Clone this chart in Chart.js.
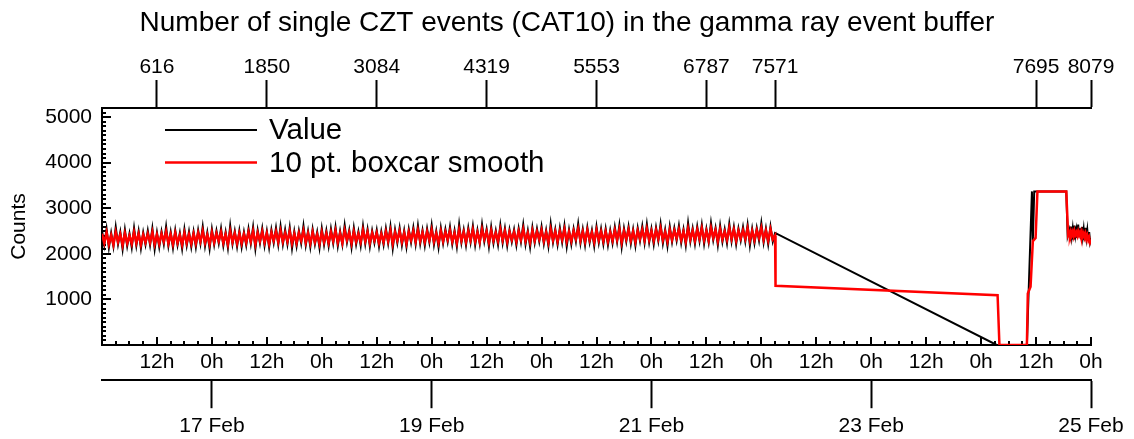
<!DOCTYPE html>
<html>
<head>
<meta charset="utf-8">
<title>CZT single events</title>
<script src="https://cdn.jsdelivr.net/npm/chart.js@4"></script>
<style>
  body { margin: 0; background: #fff; }
  #wrap { width: 1134px; height: 439px; }
</style>
</head>
<body>
<div id="wrap"><canvas id="chart" width="1134" height="439"></canvas></div>
<script>
// time is in hours counted from 16 Feb 00:00
const mainStartHour = 0;
const mainStepHours = 0.5;

const valueMain = [
  2510, 2190, 2550, 2130, 2460, 2160, 2590, 2210, 2480, 2100, 2530, 2170, 2450, 2140, 2570, 2180, 2500, 2120, 2470, 2200,
  2510, 2190, 2560, 2100, 2470, 2150, 2490, 2210, 2600, 2170, 2480, 2130, 2520, 2190, 2460, 2110, 2540, 2180, 2490, 2150,
  2490, 2150, 2520, 2220, 2600, 2170, 2470, 2110, 2540, 2200, 2510, 2230, 2560, 2180, 2480, 2130, 2620, 2210, 2500, 2160,
  2510, 2150, 2480, 2190, 2550, 2220, 2590, 2110, 2520, 2230, 2560, 2180, 2500, 2140, 2530, 2240, 2570, 2200, 2610, 2210,
  2530, 2210, 2580, 2120, 2490, 2170, 2510, 2230, 2620, 2190, 2500, 2150, 2540, 2210, 2480, 2130, 2560, 2200, 2510, 2170,
  2550, 2230, 2590, 2170, 2500, 2200, 2630, 2250, 2520, 2140, 2570, 2210, 2490, 2180, 2610, 2220, 2540, 2160, 2510, 2240,
  2520, 2160, 2490, 2200, 2560, 2230, 2600, 2120, 2530, 2240, 2570, 2190, 2510, 2150, 2540, 2250, 2580, 2210, 2620, 2220,
  2520, 2180, 2550, 2250, 2630, 2200, 2500, 2140, 2570, 2230, 2540, 2260, 2590, 2210, 2510, 2160, 2650, 2240, 2530, 2190,
  2570, 2250, 2610, 2190, 2520, 2220, 2650, 2270, 2540, 2160, 2590, 2230, 2510, 2200, 2630, 2240, 2560, 2180, 2530, 2260,
  2530, 2190, 2560, 2260, 2640, 2210, 2510, 2150, 2580, 2240, 2550, 2270, 2600, 2220, 2520, 2170, 2660, 2250, 2540, 2200,
  2570, 2250, 2620, 2160, 2530, 2210, 2550, 2270, 2660, 2230, 2540, 2190, 2580, 2250, 2520, 2170, 2600, 2240, 2550, 2210,
  2550, 2190, 2520, 2230, 2590, 2260, 2630, 2150, 2560, 2270, 2600, 2220, 2540, 2180, 2570, 2280, 2610, 2240, 2650, 2250,
  2550, 2210, 2580, 2280, 2660, 2230, 2530, 2170, 2600, 2260, 2570, 2290, 2620, 2240, 2540, 2190, 2680, 2270, 2560, 2220,
  2600, 2280, 2640, 2220, 2550, 2250, 2680, 2300, 2570, 2190, 2620, 2260, 2540, 2230, 2660, 2270, 2590, 2210, 2560, 2290,
  2590, 2270, 2640, 2180, 2550, 2230, 2570, 2290, 2680, 2250, 2560, 2210, 2600, 2270, 2460
];

const smoothMain = [
  2440, 2240, 2470, 2210, 2410, 2200, 2480, 2260, 2430, 2190, 2450, 2230, 2400, 2220, 2480, 2240, 2440, 2200, 2420, 2250,
  2440, 2250, 2480, 2210, 2420, 2220, 2440, 2270, 2490, 2230, 2430, 2210, 2460, 2240, 2410, 2200, 2460, 2240, 2430, 2220,
  2440, 2230, 2460, 2270, 2500, 2240, 2420, 2210, 2470, 2250, 2450, 2280, 2480, 2240, 2430, 2210, 2500, 2260, 2450, 2230,
  2450, 2230, 2430, 2250, 2480, 2270, 2500, 2210, 2460, 2280, 2490, 2250, 2450, 2220, 2470, 2290, 2490, 2260, 2510, 2270,
  2460, 2270, 2500, 2230, 2440, 2240, 2460, 2290, 2510, 2250, 2450, 2230, 2480, 2260, 2430, 2220, 2480, 2260, 2450, 2240,
  2480, 2280, 2510, 2250, 2450, 2240, 2520, 2300, 2470, 2230, 2490, 2270, 2440, 2260, 2520, 2280, 2480, 2240, 2460, 2290,
  2460, 2240, 2440, 2260, 2490, 2280, 2510, 2220, 2470, 2290, 2500, 2260, 2460, 2230, 2480, 2300, 2500, 2270, 2520, 2280,
  2470, 2260, 2490, 2300, 2530, 2270, 2450, 2240, 2500, 2280, 2480, 2310, 2510, 2270, 2460, 2240, 2530, 2290, 2480, 2260,
  2500, 2300, 2530, 2270, 2470, 2260, 2540, 2320, 2490, 2250, 2510, 2290, 2460, 2280, 2540, 2300, 2500, 2260, 2480, 2310,
  2480, 2270, 2500, 2310, 2540, 2280, 2460, 2250, 2510, 2290, 2490, 2320, 2520, 2280, 2470, 2250, 2540, 2300, 2490, 2270,
  2500, 2310, 2540, 2270, 2480, 2280, 2500, 2330, 2550, 2290, 2490, 2270, 2520, 2300, 2470, 2260, 2520, 2300, 2490, 2280,
  2490, 2270, 2470, 2290, 2520, 2310, 2540, 2250, 2500, 2320, 2530, 2290, 2490, 2260, 2510, 2330, 2530, 2300, 2550, 2310,
  2500, 2290, 2520, 2330, 2560, 2300, 2480, 2270, 2530, 2310, 2510, 2340, 2540, 2300, 2490, 2270, 2560, 2320, 2510, 2290,
  2530, 2330, 2560, 2300, 2500, 2290, 2570, 2350, 2520, 2280, 2540, 2320, 2490, 2310, 2570, 2330, 2530, 2290, 2510, 2340,
  2520, 2330, 2560, 2290, 2500, 2300, 2520, 2350, 2570, 2310, 2510, 2290, 2540, 2320, 2400
];

// sparse stretch after the buffer stalls (22 Feb 03h) until it comes back (24 Feb 11h)
const valueGapHours  = [195.4, 202.0, 203.1, 203.3, 203.6, 210.6, 210.9];
const valueGapCounts = [0, 0, 3370, 2300, 3370, 3370, 2400];
const smoothGapHours  = [147.1, 195.6, 196.0, 202.0, 202.2, 202.8, 203.3, 203.9, 204.3, 210.6, 211.0];
const smoothGapCounts = [1300, 1090, 0, 0, 1130, 1280, 2280, 2350, 3370, 3370, 2420];

const tailStartHour = 211.2;
const tailStepHours = 0.2;
const valueTail  = [2520, 2330, 2600, 2380, 2550, 2310, 2620, 2400, 2530, 2350, 2640, 2380, 2560, 2320, 2590, 2370, 2540, 2300, 2570, 2350, 2520, 2290, 2480, 2260, 2350];
const smoothTail = [2470, 2400, 2490, 2410, 2480, 2390, 2500, 2420, 2470, 2400, 2490, 2410, 2470, 2380, 2480, 2390, 2450, 2360, 2440, 2330, 2400, 2300, 2360, 2250, 2300];

const yTickValues = [1000, 2000, 3000, 4000, 5000];
const topTickHours  = [12, 36, 60, 84, 108, 132, 147, 204, 216];
const topTickLabels = ['616', '1850', '3084', '4319', '5553', '6787', '7571', '7695', '8079'];
const dateTickHours  = [24, 72, 120, 168, 216];
const dateTickLabels = ['17 Feb', '19 Feb', '21 Feb', '23 Feb', '25 Feb'];

function buildPoints(mainVals, gapHours, gapVals, tailVals) {
  const pts = [];
  mainVals.forEach((v, i) => pts.push({x: mainStartHour + i * mainStepHours, y: v}));
  gapHours.forEach((h, i) => pts.push({x: h, y: gapVals[i]}));
  tailVals.forEach((v, i) => pts.push({x: tailStartHour + i * tailStepHours, y: v}));
  return pts;
}

const FONT = '"Liberation Sans", Arial, Helvetica, sans-serif';
Chart.defaults.font.family = FONT;
Chart.defaults.color = '#000';

// inward ticks along the left and bottom axes
const axisTicks = {
  id: 'axisTicks',
  beforeDatasetsDraw(chart) {
    const {ctx, chartArea} = chart;
    const xs = chart.scales.x, ys = chart.scales.y;
    ctx.save();
    ctx.strokeStyle = '#000';
    ctx.lineWidth = 2;
    ctx.beginPath();
    for (let h = xs.min; h <= xs.max; h += 3) {
      const px = Math.round(xs.getPixelForValue(h));
      const len = h % 12 === 0 ? 8 : 4;
      ctx.moveTo(px, chartArea.bottom);
      ctx.lineTo(px, chartArea.bottom - len);
    }
    for (let v = ys.min; v <= ys.max; v += 100) {
      const py = Math.round(ys.getPixelForValue(v));
      const len = v % 1000 === 0 ? 9 : 4;
      ctx.moveTo(chartArea.left, py);
      ctx.lineTo(chartArea.left + len, py);
    }
    ctx.stroke();
    ctx.restore();
  }
};

// legend drawn inside the plot, top left
const insideLegend = {
  id: 'insideLegend',
  afterDraw(chart) {
    const {ctx, chartArea} = chart;
    ctx.save();
    ctx.font = '29.5px ' + FONT;
    ctx.textBaseline = 'middle';
    ctx.fillStyle = '#000';
    chart.data.datasets.forEach((ds, i) => {
      const y = chartArea.top + 22 + i * 32.5;
      ctx.strokeStyle = ds.borderColor;
      ctx.lineWidth = ds.borderWidth;
      ctx.beginPath();
      ctx.moveTo(chartArea.left + 63, y);
      ctx.lineTo(chartArea.left + 155, y);
      ctx.stroke();
      ctx.fillText(ds.label, chartArea.left + 167, y + 1);
    });
    ctx.restore();
  }
};

new Chart(document.getElementById('chart'), {
  type: 'line',
  data: {
    datasets: [{
      label: 'Value',
      data: buildPoints(valueMain, valueGapHours, valueGapCounts, valueTail),
      borderColor: '#000',
      borderWidth: 2,
      pointRadius: 0,
      tension: 0,
      order: 2
    }, {
      label: '10 pt. boxcar smooth',
      data: buildPoints(smoothMain, smoothGapHours, smoothGapCounts, smoothTail),
      borderColor: '#ff0000',
      borderWidth: 2.5,
      pointRadius: 0,
      tension: 0,
      order: 1
    }]
  },
  options: {
    responsive: false,
    animation: false,
    events: [],
    layout: { padding: 0 },
    plugins: {
      legend: { display: false },
      tooltip: { enabled: false },
      title: {
        display: true,
        text: 'Number of single CZT events (CAT10) in the gamma ray event buffer',
        color: '#000',
        font: { size: 28, weight: 'normal' },
        padding: { top: 6, bottom: 15.2 }
      }
    },
    scales: {
      x: {
        type: 'linear', position: 'bottom', min: 0, max: 216, weight: 0,
        ticks: {
          stepSize: 12, autoSkip: false, maxRotation: 0, padding: 5,
          font: { size: 21 },
          callback: v => v === 0 ? '' : (v % 24 === 0 ? '0h' : '12h')
        },
        grid: { drawOnChartArea: false, drawTicks: false },
        border: { display: true, color: '#000', width: 2 }
      },
      xDate: {
        type: 'linear', position: 'bottom', min: 0, max: 216, weight: 1,
        afterBuildTicks: s => { s.ticks = dateTickHours.map(v => ({ value: v })); },
        afterFit: s => { s.height = 58.8; },
        ticks: {
          autoSkip: false, maxRotation: 0, padding: 5,
          font: { size: 21 },
          callback: (v, i) => dateTickLabels[i]
        },
        grid: { drawOnChartArea: false, drawTicks: true, tickLength: 28, tickWidth: 2, tickColor: '#000' },
        border: { display: true, color: '#000', width: 2 }
      },
      xTop: {
        type: 'linear', position: 'top', min: 0, max: 216,
        afterBuildTicks: s => { s.ticks = topTickHours.map(v => ({ value: v })); },
        ticks: {
          autoSkip: false, maxRotation: 0, padding: 0,
          font: { size: 21 },
          callback: (v, i) => topTickLabels[i]
        },
        grid: { drawOnChartArea: false, drawTicks: true, tickLength: 28, tickWidth: 2, tickColor: '#000' },
        border: { display: true, color: '#000', width: 2 }
      },
      y: {
        type: 'linear', position: 'left', min: 0, max: 5200,
        afterBuildTicks: s => { s.ticks = yTickValues.map(v => ({ value: v })); },
        afterFit: s => { s.width = 102; },
        ticks: { padding: 10, font: { size: 21 }, callback: v => String(v) },
        grid: { drawOnChartArea: false, drawTicks: false },
        border: { display: true, color: '#000', width: 2 },
        title: { display: true, text: 'Counts', color: '#000', font: { size: 21 }, padding: { top: 7, bottom: 0 } }
      },
      // empty right margin so the title centres on the whole figure
      yRight: {
        type: 'linear', position: 'right', min: 0, max: 1,
        afterFit: s => { s.width = 43; },
        ticks: { display: false },
        grid: { display: false },
        border: { display: false }
      }
    }
  },
  plugins: [axisTicks, insideLegend]
});
</script>
</body>
</html>
